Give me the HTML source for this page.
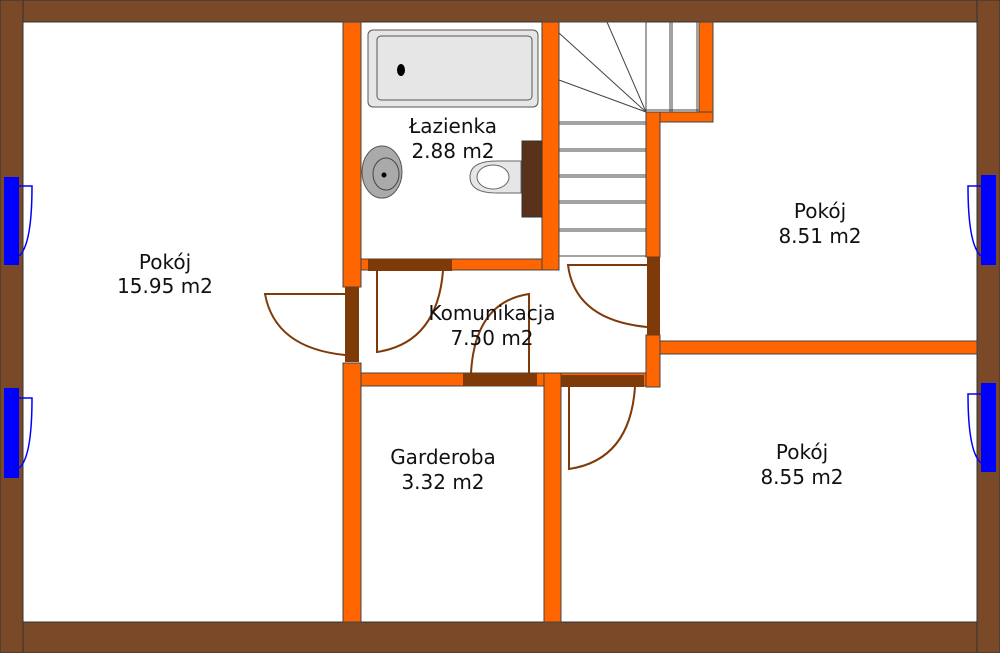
<!DOCTYPE html>
<html><head><style>body{margin:0}svg{display:block}text{font-family:"DejaVu Sans","Liberation Sans",sans-serif;font-size:20px;fill:#111;text-anchor:middle}</style></head>
<body>
<svg width="1000" height="653" viewBox="0 0 1000 653" xmlns="http://www.w3.org/2000/svg">
<rect width="1000" height="653" fill="#fff"/>
<g fill="#7a4a28" stroke="#333" stroke-width="1">
<rect x="0" y="0" width="1000" height="22"/>
<rect x="0" y="622" width="1000" height="31"/>
<rect x="0" y="0" width="23" height="653"/>
<rect x="977" y="0" width="23" height="653"/>
</g>
<g fill="#0000ff">
<rect x="4" y="177" width="15" height="88"/><rect x="4" y="388" width="15" height="90"/>
<rect x="981" y="175" width="15" height="90"/><rect x="981" y="383" width="15" height="89"/>
</g>
<g fill="none" stroke="#0000ff" stroke-width="1.5">
<path d="M19 186 H32 Q32 245 19 256"/><path d="M19 398 H32 Q32 458 19 468"/>
<path d="M981 186 H968 Q968 245 981 256"/><path d="M981 394 H968 Q968 452 981 463"/>
</g>
<!-- stairs -->
<g stroke="#444" stroke-width="1" fill="none">
<rect x="559" y="22" width="87" height="234" fill="#fff"/>
<line x1="646" y1="22" x2="646" y2="112"/><line x1="670" y1="22" x2="670" y2="112"/><line x1="672" y1="22" x2="672" y2="112"/><line x1="697" y1="22" x2="697" y2="112"/>
<line x1="646" y1="110" x2="699" y2="110"/>
<line x1="559" y1="33" x2="646" y2="112"/><line x1="607" y1="22" x2="646" y2="112"/><line x1="559" y1="80" x2="646" y2="112"/>
<line x1="559" y1="122" x2="646" y2="122"/><line x1="559" y1="124" x2="646" y2="124"/>
<line x1="559" y1="149" x2="646" y2="149"/><line x1="559" y1="151" x2="646" y2="151"/>
<line x1="559" y1="175" x2="646" y2="175"/><line x1="559" y1="177" x2="646" y2="177"/>
<line x1="559" y1="201" x2="646" y2="201"/><line x1="559" y1="203" x2="646" y2="203"/>
<line x1="559" y1="229" x2="646" y2="229"/><line x1="559" y1="231" x2="646" y2="231"/>
</g>
<!-- orange walls -->
<g fill="#ff6600" stroke="#444" stroke-width="1">
<rect x="343" y="22" width="18" height="265"/>
<rect x="343" y="363" width="18" height="259"/>
<rect x="361" y="259" width="198" height="11"/>
<rect x="542" y="22" width="17" height="248"/>
<rect x="699" y="22" width="14" height="100"/>
<rect x="646" y="112" width="67" height="10"/>
<rect x="646" y="112" width="14" height="145"/>
<rect x="646" y="335" width="14" height="52"/>
<rect x="660" y="341" width="317" height="13"/>
<rect x="361" y="373" width="285" height="13"/>
<rect x="544" y="373" width="17" height="249"/>
</g>
<!-- doors -->
<g fill="#7f3a0a">
<rect x="345" y="287" width="14" height="75"/>
<rect x="368" y="259" width="84" height="12"/>
<rect x="463" y="373" width="74" height="13"/>
<rect x="561" y="375" width="83" height="12"/>
<rect x="647" y="257" width="13" height="78"/>
</g>
<g fill="none" stroke="#7f3a0a" stroke-width="2">
<path d="M345 294 H265 Q275 348 345 355"/>
<path d="M377 271 V352 Q437 343 443 271"/>
<path d="M529 373 V294 Q475 302 471 373"/>
<path d="M647 265 H568 Q575 320 647 327"/>
<path d="M569 387 V469 Q630 460 635 387"/>
</g>
<!-- bath -->
<rect x="368" y="30" width="170" height="77" rx="5" fill="#e6e6e6" stroke="#555"/>
<rect x="377" y="36" width="155" height="64" rx="4" fill="#e6e6e6" stroke="#555"/>
<ellipse cx="401" cy="70" rx="4" ry="6" fill="#000"/>
<ellipse cx="382" cy="172" rx="20" ry="26" fill="#aaa" stroke="#555"/>
<ellipse cx="386" cy="174" rx="13" ry="16" fill="none" stroke="#444"/>
<circle cx="384" cy="175" r="2.5" fill="#000"/>
<path d="M521 161 H497 Q470 161 470 177 Q470 193 497 193 H521 Z" fill="#e6e6e6" stroke="#666"/>
<ellipse cx="493" cy="177" rx="16" ry="12" fill="#fff" stroke="#666"/>
<rect x="522" y="141" width="20" height="76" fill="#5a321c" stroke="#333"/>
<text x="453" y="133">Łazienka</text><text x="453" y="158">2.88 m2</text>
<text x="165" y="269">Pokój</text><text x="165" y="293">15.95 m2</text>
<text x="492" y="320">Komunikacja</text><text x="492" y="345">7.50 m2</text>
<text x="820" y="218">Pokój</text><text x="820" y="243">8.51 m2</text>
<text x="802" y="459">Pokój</text><text x="802" y="484">8.55 m2</text>
<text x="443" y="464">Garderoba</text><text x="443" y="489">3.32 m2</text>
</svg>
</body></html>
